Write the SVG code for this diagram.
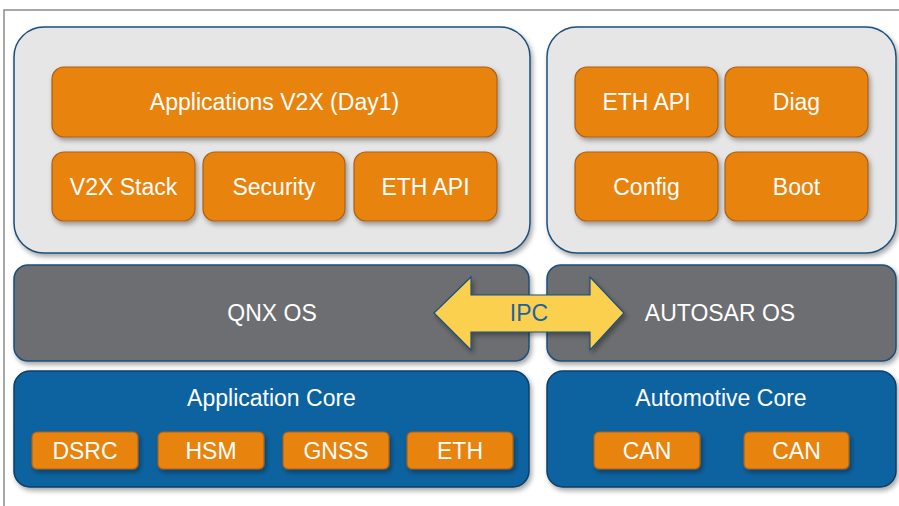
<svg xmlns="http://www.w3.org/2000/svg" width="899" height="506" viewBox="0 0 899 506">
<defs>
<filter id="sh" x="-10%" y="-10%" width="125%" height="135%">
<feDropShadow dx="2" dy="3" stdDeviation="2.5" flood-color="#000" flood-opacity="0.35"/>
</filter>
</defs>
<style>
.frame{fill:#fff;stroke:#8a8a8a;stroke-width:1.5}
.panel{fill:#e6e6e6;stroke:#1b4f79;stroke-width:1.5}
.os{fill:#6d6e71;stroke:#1b4f79;stroke-width:1.5}
.core{fill:#0c63a0;stroke:#0a3e66;stroke-width:1.5}
.box{fill:#e8830a;stroke:#a9601a;stroke-width:1.2}
.t{font-family:"Liberation Sans",Arial,sans-serif;font-size:23px;fill:#fff;text-anchor:middle;dominant-baseline:central}
.ipc{fill:#fcd04f;stroke:#1b4f79;stroke-width:1.2}
.ipct{font-family:"Liberation Sans",Arial,sans-serif;font-size:23px;fill:#1c63a6;text-anchor:middle;dominant-baseline:central}
</style>
<rect width="899" height="506" fill="#fff"/>
<path class="frame" d="M4,506 V10 H899" fill="none"/>

<g id="app-panel">
<rect class="panel" x="14" y="27" width="516" height="226" rx="30" filter="url(#sh)"/>
</g>
<g id="auto-panel">
<rect class="panel" x="547" y="27" width="349" height="226" rx="30" filter="url(#sh)"/>
</g>

<g id="apps-v2x">
<rect class="box" x="52" y="67" width="445" height="70" rx="12" filter="url(#sh)"/>
<text class="t" x="274.5" y="102">Applications V2X (Day1)</text>
</g>
<g id="v2x-stack">
<rect class="box" x="52" y="152" width="143" height="69" rx="12" filter="url(#sh)"/>
<text class="t" x="123.5" y="187">V2X Stack</text>
</g>
<g id="security">
<rect class="box" x="203" y="152" width="142" height="69" rx="12" filter="url(#sh)"/>
<text class="t" x="274" y="187">Security</text>
</g>
<g id="eth-api-left">
<rect class="box" x="354" y="152" width="143" height="69" rx="12" filter="url(#sh)"/>
<text class="t" x="425.5" y="187">ETH API</text>
</g>

<g id="eth-api-right">
<rect class="box" x="575" y="67" width="143" height="70" rx="12" filter="url(#sh)"/>
<text class="t" x="646.5" y="102">ETH API</text>
</g>
<g id="diag">
<rect class="box" x="725" y="67" width="143" height="70" rx="12" filter="url(#sh)"/>
<text class="t" x="796.5" y="102">Diag</text>
</g>
<g id="config">
<rect class="box" x="575" y="152" width="143" height="69" rx="12" filter="url(#sh)"/>
<text class="t" x="646.5" y="187">Config</text>
</g>
<g id="boot">
<rect class="box" x="725" y="152" width="143" height="69" rx="12" filter="url(#sh)"/>
<text class="t" x="796.5" y="187">Boot</text>
</g>

<g id="qnx-os">
<rect class="os" x="14" y="265" width="515" height="96" rx="14" filter="url(#sh)"/>
<text class="t" x="272" y="313">QNX OS</text>
</g>
<g id="autosar-os">
<rect class="os" x="547" y="265" width="349" height="96" rx="14" filter="url(#sh)"/>
<text class="t" x="720" y="313">AUTOSAR OS</text>
</g>

<g id="app-core">
<rect class="core" x="14" y="371" width="515" height="116" rx="16" filter="url(#sh)"/>
<text class="t" x="271.5" y="398">Application Core</text>
</g>
<g id="dsrc">
<rect class="box" x="32" y="432" width="106" height="37" rx="5" filter="url(#sh)"/>
<text class="t" x="85" y="451">DSRC</text>
</g>
<g id="hsm">
<rect class="box" x="158" y="432" width="106" height="37" rx="5" filter="url(#sh)"/>
<text class="t" x="211" y="451">HSM</text>
</g>
<g id="gnss">
<rect class="box" x="283" y="432" width="106" height="37" rx="5" filter="url(#sh)"/>
<text class="t" x="336" y="451">GNSS</text>
</g>
<g id="eth">
<rect class="box" x="407" y="432" width="106" height="37" rx="5" filter="url(#sh)"/>
<text class="t" x="460" y="451">ETH</text>
</g>

<g id="auto-core">
<rect class="core" x="547" y="371" width="349" height="116" rx="16" filter="url(#sh)"/>
<text class="t" x="721" y="398">Automotive Core</text>
</g>
<g id="can-1">
<rect class="box" x="594" y="432" width="106" height="37" rx="5" filter="url(#sh)"/>
<text class="t" x="647" y="451">CAN</text>
</g>
<g id="can-2">
<rect class="box" x="744" y="432" width="105" height="37" rx="5" filter="url(#sh)"/>
<text class="t" x="796.5" y="451">CAN</text>
</g>

<g id="connectors">
<g id="ipc">
<path class="ipc" d="M434,313 L471,277 L471,295 L590,295 L590,277 L624,313 L590,350 L590,332 L471,332 L471,350 Z" filter="url(#sh)"/>
<text class="ipct" x="529" y="313">IPC</text>
</g>
</g>
</svg>
